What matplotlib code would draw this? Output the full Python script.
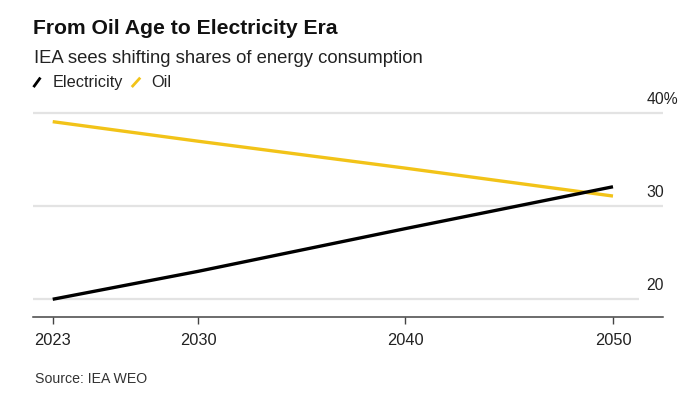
import matplotlib.pyplot as plt

plt.rcParams['font.family'] = ['Liberation Sans', 'DejaVu Sans']

years = [2023, 2030, 2040, 2050]
electricity = [20.0, 23.0, 27.6, 32.1]
oil = [39.1, 37.0, 34.1, 31.1]
grid_vals = [20, 30, 40]
grid_labels = ['20', '30', '40%']
xtick_labels = ['2023', '2030', '2040', '2050']

W, H = 700, 394


def fx(x):
    return x / W


def fy(y):
    return 1 - y / H


fig = plt.figure(figsize=(7, 3.94), dpi=100)
ax = fig.add_axes([fx(33), fy(317.3), fx(663) - fx(33), fy(104) - fy(317.3)])

ax.set_xlim(2022.05, 2052.41)
ax.set_ylim(18.06, 41)

# gridlines (the 20 line is a little shorter)
for v in grid_vals:
    xmax = 2051.25 if v == 20 else 2052.41
    ax.hlines(v, 2022.05, xmax, color='#e3e3e3', lw=1.6, zorder=1)

ax.plot(years, oil, color='#F2C318', lw=2.4, solid_capstyle='butt', zorder=3)
ax.plot(years, electricity, color='#000000', lw=2.4, solid_capstyle='butt', zorder=4)

for v, lab in zip(grid_vals, grid_labels):
    ax.text(2051.6, v + 1.5, lab, ha='left', va='center', fontsize=11.3, color='#222222')

for s in ['top', 'right', 'left']:
    ax.spines[s].set_visible(False)
ax.spines['bottom'].set_color('#444444')
ax.spines['bottom'].set_linewidth(1.1)
ax.set_yticks([])
ax.set_xticks(years)
ax.set_xticklabels(xtick_labels)
ax.tick_params(axis='x', length=5, width=1.0, color='#444444', pad=6,
               labelsize=11.8, labelcolor='#222222')

# header
fig.text(fx(33), fy(34.3), 'From Oil Age to Electricity Era', fontsize=15.2,
         fontweight='bold', va='baseline', ha='left', color='#111111')
fig.text(fx(34), fy(63.3), 'IEA sees shifting shares of energy consumption',
         fontsize=13.3, va='baseline', ha='left', color='#222222')

# legend
fig.add_artist(plt.Line2D([fx(34.3), fx(39.6)], [fy(86), fy(78.7)], color='#000000',
                          lw=2.0, transform=fig.transFigure))
fig.text(fx(53), fy(86.7), 'Electricity', fontsize=11.7, va='baseline', ha='left',
         color='#222222')
fig.add_artist(plt.Line2D([fx(132.7), fx(139.3)], [fy(86), fy(78.7)], color='#F2C318',
                          lw=2.0, transform=fig.transFigure))
fig.text(fx(151.5), fy(86.7), 'Oil', fontsize=11.7, va='baseline', ha='left',
         color='#222222')

fig.text(fx(35), fy(379), 'Source: IEA WEO', fontsize=10.2, va='center', ha='left',
         color='#333333')

fig.savefig('out.png', dpi=100)
